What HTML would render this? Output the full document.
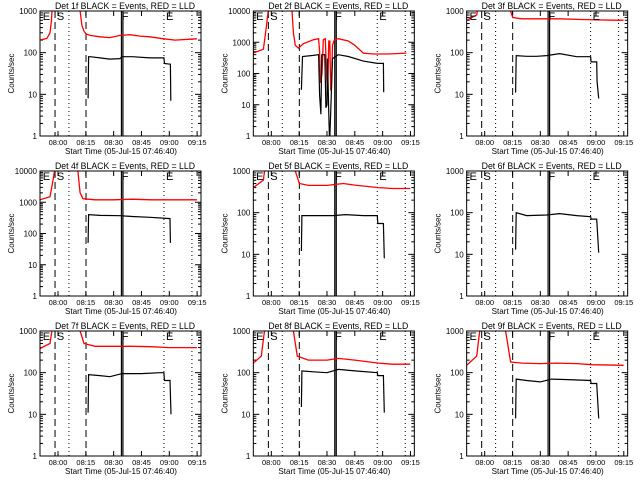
<!DOCTYPE html>
<html><head><meta charset="utf-8"><style>
body{margin:0;background:#fff}
svg{display:block}
text{font-family:"Liberation Sans",sans-serif;fill:#000}
</style></head><body>
<svg id="c" width="640" height="480" viewBox="0 0 640 480" xmlns="http://www.w3.org/2000/svg"></svg>
<script>
// Times in minutes relative to 08:00
const panelTitles=["Det 1f","Det 2f","Det 3f","Det 4f","Det 5f","Det 6f","Det 7f","Det 8f","Det 9f"];
const panelYMax=[1000,10000,1000,10000,1000,1000,1000,1000,1000];
const xTickMinutes=[0,15,30,45,60,75];
const xTickLabels=["08:00","08:15","08:30","08:45","09:00","09:15"];
const dashedLines=[-1.6,15.1];
const dottedLines=[5.9,57.1,72.2];
const solidLines=[34.2,35.0];
const eventLabels=["E","S","F","E"];
const eventMinutes=[-8.2,-0.6,34.4,58.2];

const red1T=[-9.7,-6,-4.3,-3.5,-2.5,0,10,11.9,12.9,14,15.1,17.3,22.6,28,33.4,38.8,44.2,49.6,57.1,63.1,71.2,74.9];
const red1V=[200,220,300,600,5000,20000,20000,1000,450,330,280,260,240,230,260,270,250,240,215,200,210,215];
const blk1T=[16.2,16.5,17.3,22.6,28,33.4,34.5,40,49.6,57.1,57.4,60.4,60.6,60.8];
const blk1V=[8,80,80,75,70,72,80,80,75,75,55,53,53,7];

const red2T=[-9.7,-4.3,-2.7,-1.1,10.8,11.9,12.9,14.6,17.3,22.6,25.5,26,26.5,27.3,28,29.1,29.8,30.3,31,31.5,32,32.4,33,34,36.1,41.5,45,49.6,55,63.1,72.8];
const red2V=[450,600,3000,20000,20000,2000,800,650,900,1200,1300,500,50,100,1200,1300,100,20,1100,1100,30,30,800,1200,1300,1100,800,450,420,420,450];
const blk2T=[16.2,16.8,22.6,25.5,26,26.7,27.2,28.8,29.4,30,30.3,31,31.3,31.6,33,36.1,41.5,49.6,57.1,60.4,60.6];
const blk2V=[30,350,380,400,20,5,400,400,8,10,300,5,1,1,300,400,350,250,210,210,25];

const red3T=[-9.7,-4.3,-3.2,-1,12,14,15.1,20,30,40,50,60,70,74.9];
const red3V=[600,800,1500,20000,20000,1000,700,650,650,650,630,610,600,600];
const blk3T=[16.7,17,22.6,28,33.4,40.4,49.6,57.1,57.4,60.4,60.6,61.5];
const blk3V=[11,85,82,82,85,95,80,80,60,60,20,8];

const red4T=[-9.7,-4.3,-2.7,-1.1,10.2,11.9,13.5,20,30,40,50,60,74.9];
const red4V=[1200,1500,5000,20000,20000,2000,1300,1200,1200,1250,1200,1200,1200];
const blk4T=[16.2,16.5,22.6,33.4,40,49.6,60.4,60.6];
const blk4V=[50,400,380,370,350,330,300,50];

const red5T=[-9.7,-4.3,-3.2,-1,11,12.9,15.1,20,30,38.8,45,57.7,65,74.9];
const red5V=[400,600,1500,20000,20000,1000,500,450,450,500,460,400,380,380];
const blk5T=[16.2,16.5,22.6,33.4,40,49.6,57.1,57.4,60.4,60.9];
const blk5V=[12,85,85,85,90,85,85,55,55,8];

const red6T=[];
const red6V=[];
const blk6T=[16.7,17,22.6,33.4,40.4,49.6,57.1,57.4,60.4,61.5];
const blk6V=[13,100,85,88,95,85,80,70,70,11];

const red7T=[-9.7,-4.3,-2.7,-1,10.5,11.9,14,20,30,40,50,60,74.9];
const red7V=[380,500,1500,20000,20000,1000,500,430,430,430,420,400,400];
const blk7T=[16.2,16.5,22.6,28,34.5,45,55,57.1,57.4,60.4,60.9];
const blk7V=[11,90,85,80,95,95,100,100,65,65,10];

const red8T=[-9.7,-5.4,-3.2,-1,10.5,11.9,14,20,30,36.1,45,57.7,65,74.9];
const red8V=[170,250,1500,20000,20000,1000,250,200,200,220,200,170,160,160];
const blk8T=[16.2,16.5,22.6,30,36.1,45,57.1,57.4,60.4,60.9];
const blk8V=[15,110,105,100,120,110,100,85,85,11];

const red9T=[-9.7,-4.3,-2.2,-1,10.5,11.3,14,20,30,38.8,50,57.7,74.9];
const red9V=[150,250,1500,20000,20000,1000,180,170,165,170,165,155,150];
const blk9T=[16.7,17,22.6,30,36.1,45,57.1,57.4,60.4,61.5];
const blk9V=[8,70,65,60,70,68,65,55,55,8];

const redT=[red1T,red2T,red3T,red4T,red5T,red6T,red7T,red8T,red9T];
const redV=[red1V,red2V,red3V,red4V,red5V,red6V,red7V,red8V,red9V];
const blkT=[blk1T,blk2T,blk3T,blk4T,blk5T,blk6T,blk7T,blk8T,blk9T];
const blkV=[blk1V,blk2V,blk3V,blk4V,blk5V,blk6V,blk7V,blk8V,blk9V];

const NS="http://www.w3.org/2000/svg";
const svg=document.getElementById("c");
function mk(tag,attrs,parent){const e=document.createElementNS(NS,tag);for(const k in attrs)e.setAttribute(k,attrs[k]);(parent||svg).appendChild(e);return e;}

for(let p=0;p<9;p++){
  const col=p%3,row=Math.floor(p/3);
  const cx=col*213.33,ry=row*160;
  const x0=cx+40,x1=cx+201,y0=ry+11,y1=ry+136;
  const ymax=panelYMax[p],dec=Math.log10(ymax);
  const xs=m=>cx+58+m*1.855;
  const ys=v=>y1-(Math.log10(Math.max(v,1e-3)))/dec*(y1-y0);
  const g=mk("g",{});
  
  
  const cp=mk("clipPath",{id:"cp"+p},g);
  mk("rect",{x:x0,y:y0,width:x1-x0,height:y1-y0},cp);
  const t=mk("text",{x:cx+55,y:ry+9,"font-size":"9",textLength:"140",lengthAdjust:"spacingAndGlyphs"},g);
  t.textContent=panelTitles[p]+" BLACK = Events, RED = LLD";
  
  
  const yl=mk("text",{x:0,y:0,"font-size":"8","text-anchor":"middle",transform:`translate(${cx+14},${(y0+y1)/2}) rotate(-90)`},g);
  yl.textContent="Counts/sec";
  
  
  const xl=mk("text",{x:cx+65,y:ry+154,"font-size":"8.5",textLength:"112",lengthAdjust:"spacingAndGlyphs"},g);
  xl.textContent="Start Time (05-Jul-15 07:46:40)";
  
  
  for(let d=0;d<=dec;d++){
    const v=Math.pow(10,d),y=ys(v);
    mk("line",{x1:x0,x2:x0+6,y1:y,y2:y,stroke:"#000"},g);
    mk("line",{x1:x1,x2:x1-6,y1:y,y2:y,stroke:"#000"},g);
    const tl=mk("text",{x:x0-3,y:y+3,"font-size":"8","text-anchor":"end"},g);
    tl.textContent=String(v);
    
    
    if(d<dec)for(let k=2;k<10;k++){const yy=ys(v*k);
      mk("line",{x1:x0,x2:x0+3,y1:yy,y2:yy,stroke:"#000"},g);
      mk("line",{x1:x1,x2:x1-3,y1:yy,y2:yy,stroke:"#000"},g);}
  }
  xTickMinutes.forEach((m,i)=>{const x=xs(m);
    mk("line",{x1:x,x2:x,y1:y1,y2:y1-5,stroke:"#000"},g);
    mk("line",{x1:x,x2:x,y1:y0,y2:y0+5,stroke:"#000"},g);
    const tl=mk("text",{x:x,y:ry+145,"font-size":"7.5","text-anchor":"middle"},g);
    tl.textContent=xTickLabels[i];
    
    
  });
  dashedLines.forEach(m=>mk("line",{x1:xs(m),x2:xs(m),y1:y0,y2:y1,stroke:"#000","stroke-dasharray":"7,4"},g));
  dottedLines.forEach(m=>mk("line",{x1:xs(m),x2:xs(m),y1:y0,y2:y1,stroke:"#000","stroke-dasharray":"1,3"},g));
  solidLines.forEach(m=>mk("line",{x1:xs(m),x2:xs(m),y1:y0,y2:y1,stroke:"#000","stroke-width":"1.2"},g));
  const cg=mk("g",{"clip-path":`url(#cp${p})`},g);
  if(redT[p].length){
    const pr=mk("polyline",{points:redT[p].map((m,i)=>xs(m).toFixed(1)+","+ys(redV[p][i]).toFixed(1)).join(" "),fill:"none",stroke:"#f00","stroke-width":"1.3"},cg);
    
    
  }
  const pb=mk("polyline",{points:blkT[p].map((m,i)=>xs(m).toFixed(1)+","+ys(blkV[p][i]).toFixed(1)).join(" "),fill:"none",stroke:"#000","stroke-width":"1.2"},cg);
  
  
  eventLabels.forEach((s,i)=>{const el=mk("text",{x:xs(eventMinutes[i]),y:y0+9,"font-size":"11"},g);
    el.textContent=s;
    
    });
  const fr=mk("rect",{x:x0,y:y0,width:x1-x0,height:y1-y0,fill:"none",stroke:"#000","stroke-width":"1"},g);
  
  
}
</script>
</body></html>
